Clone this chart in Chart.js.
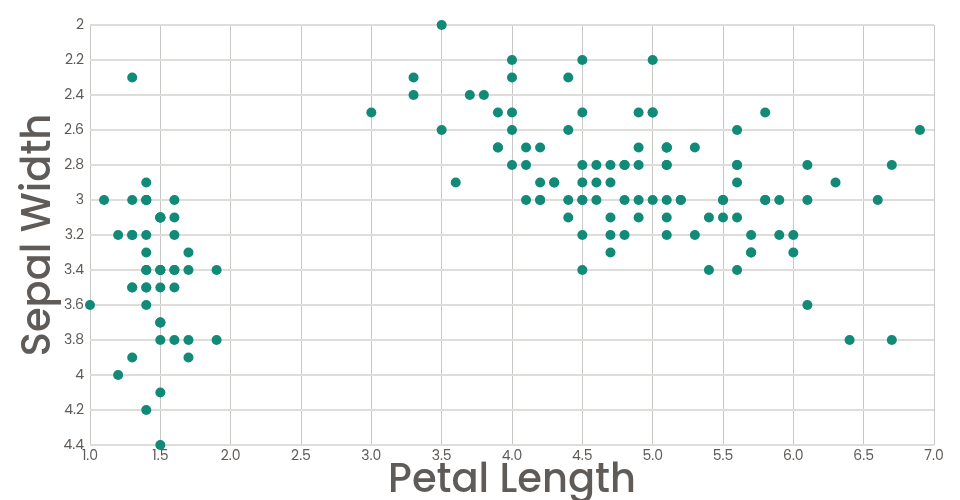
<!DOCTYPE html>
<html>
<head>
<meta charset="utf-8">
<script src="https://cdn.jsdelivr.net/npm/chart.js@4.4.1/dist/chart.umd.min.js"></script>
<style>
  html, body { margin: 0; padding: 0; background: #fff; }
  #wrap { width: 960px; height: 500px; }
</style>
</head>
<body>
<div id="wrap"><canvas id="chart" width="960" height="500"></canvas></div>
<script>
// --- data: iris, petal length vs sepal width ---
const petalLength = [
  1.4,1.4,1.3,1.5,1.4,1.7,1.4,1.5,1.4,1.5,1.5,1.6,1.4,1.1,1.2,1.5,1.3,1.4,1.7,1.5,
  1.7,1.5,1.0,1.7,1.9,1.6,1.6,1.5,1.4,1.6,1.6,1.5,1.5,1.4,1.5,1.2,1.3,1.5,1.3,1.5,
  1.3,1.3,1.3,1.6,1.9,1.4,1.6,1.4,1.5,1.4,
  4.7,4.5,4.9,4.0,4.6,4.5,4.7,3.3,4.6,3.9,3.5,4.2,4.0,4.7,3.6,4.4,4.5,4.1,4.5,3.9,
  4.8,4.0,4.9,4.7,4.3,4.4,4.8,5.0,4.5,3.5,3.8,3.7,3.9,5.1,4.5,4.5,4.7,4.4,4.1,4.0,
  4.4,4.6,4.0,3.3,4.2,4.2,4.2,4.3,3.0,4.1,
  6.0,5.1,5.9,5.6,5.8,6.6,4.5,6.3,5.8,6.1,5.1,5.3,5.5,5.0,5.1,5.3,5.5,6.7,6.9,5.0,
  5.7,4.9,6.7,4.9,5.7,6.0,4.8,4.9,5.6,5.8,6.1,6.4,5.6,5.1,5.6,6.1,5.6,5.5,4.8,5.4,
  5.6,5.1,5.1,5.9,5.7,5.2,5.0,5.2,5.4,5.1
];
const sepalWidth = [
  3.5,3.0,3.2,3.1,3.6,3.9,3.4,3.4,2.9,3.1,3.7,3.4,3.0,3.0,4.0,4.4,3.9,3.5,3.8,3.8,
  3.4,3.7,3.6,3.3,3.4,3.0,3.4,3.5,3.4,3.2,3.1,3.4,4.1,4.2,3.1,3.2,3.5,3.1,3.0,3.4,
  3.5,2.3,3.2,3.5,3.8,3.0,3.8,3.2,3.7,3.3,
  3.2,3.2,3.1,2.3,2.8,2.8,3.3,2.4,2.9,2.7,2.0,3.0,2.2,2.9,2.9,3.1,3.0,2.7,2.2,2.5,
  3.2,2.8,2.5,2.8,2.9,3.0,2.8,3.0,2.9,2.6,2.4,2.4,2.7,2.7,3.0,3.4,3.1,2.3,3.0,2.5,
  2.6,3.0,2.6,2.3,2.7,3.0,2.9,2.9,2.5,2.8,
  3.3,2.7,3.0,2.9,3.0,3.0,2.5,2.9,2.5,3.6,3.2,2.7,3.0,2.5,2.8,3.2,3.0,3.8,2.6,2.2,
  3.2,2.8,2.8,2.7,3.3,3.2,2.8,3.0,2.8,3.0,2.8,3.8,2.8,2.8,2.6,3.0,3.4,3.1,3.0,3.1,
  3.1,3.1,2.7,3.2,3.3,3.0,2.5,3.0,3.4,3.0
];
const xTitle = 'Petal Length';
const yTitle = 'Sepal Width';

const points = petalLength.map((x, i) => ({ x: x, y: sepalWidth[i] }));

const FONT = "Poppins, 'Open Sans', sans-serif";
const TEXT = '#5f5b58';

new Chart(document.getElementById('chart').getContext('2d'), {
  type: 'scatter',
  data: {
    datasets: [{
      data: points,
      backgroundColor: '#118a78',
      borderWidth: 0,
      pointRadius: 5,
      pointHoverRadius: 5,
      clip: false
    }]
  },
  options: {
    responsive: false,
    animation: false,
    layout: { padding: { top: 25, right: 26, left: 0, bottom: 0 } },
    plugins: { legend: { display: false }, tooltip: { enabled: false } },
    scales: {
      x: {
        type: 'linear',
        min: 1, max: 7,
        afterFit: (s) => { s.height = 55; },
        border: { display: false },
        grid: { color: '#cac8c4', lineWidth: 1, drawTicks: false },
        ticks: {
          stepSize: 0.5, padding: 3, color: TEXT,
          font: { family: FONT, size: 14 },
          callback: (v) => v.toFixed(1)
        },
        title: {
          display: true, text: xTitle, color: TEXT,
          font: { family: FONT, size: 40, weight: '500' },
          padding: { top: 0, bottom: -6 }
        }
      },
      y: {
        type: 'linear',
        reverse: true,
        min: 2, max: 4.4,
        afterFit: (s) => { s.width = 90; },
        border: { display: false },
        grid: { color: '#dfddd9', lineWidth: 2, drawTicks: false },
        ticks: {
          stepSize: 0.2, padding: 6, color: TEXT,
          font: { family: FONT, size: 14 },
          callback: (v) => String(Number(v.toFixed(1)))
        },
        title: {
          display: true, text: yTitle, color: TEXT,
          font: { family: FONT, size: 40, weight: '500' },
          padding: { top: 16, bottom: 0 }
        }
      }
    }
  }
});
</script>
</body>
</html>
